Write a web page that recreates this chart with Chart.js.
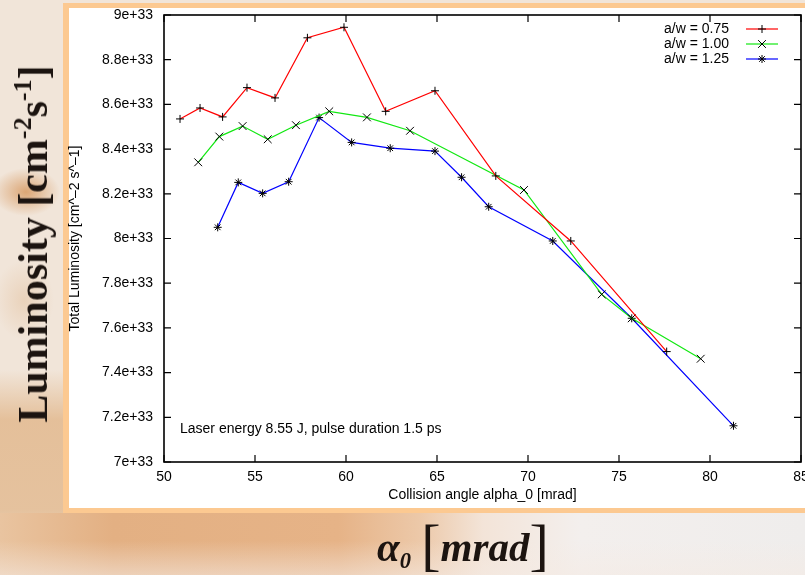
<!DOCTYPE html>
<html>
<head>
<meta charset="utf-8">
<script src="https://cdn.jsdelivr.net/npm/chart.js@4/dist/chart.umd.min.js"></script>
<style>
  html, body { margin: 0; padding: 0; }
  body {
    width: 805px; height: 575px; overflow: hidden; position: relative;
    background:
      radial-gradient(ellipse 34px 24px at 26px 192px, rgba(214,150,92,0.8), rgba(214,150,92,0) 100%),
      radial-gradient(ellipse 30px 40px at 24px 300px, rgba(220,175,130,0.35), rgba(220,175,130,0) 100%),
      linear-gradient(180deg, rgba(226,185,143,0) 0px, rgba(226,185,143,0) 370px, rgba(226,185,143,0.85) 420px, rgba(226,185,143,0.8) 510px, rgba(226,185,143,0) 560px),
      #f1e5d9;
  }
  #bottom {
    position: absolute; left: 0; top: 513px; width: 805px; height: 62px;
    background:
      linear-gradient(180deg, rgba(245,235,228,0) 0%, rgba(245,235,228,0) 45%, rgba(245,235,228,0.55) 100%),
      linear-gradient(90deg, #e9c4a0 0%, #e3b083 14%, #e6b387 42%, #ecc8a8 52%, #f3e4d8 60%, #f3efed 72%, #efedec 100%);
  }
  #frame {
    position: absolute; left: 63px; top: 3px; width: 760px; height: 500px;
    border: 5px solid #fcc991; border-left-width: 6px; background: #fff;
  }
  #chart { position: absolute; left: 0; top: 0; }
  #ylab {
    position: absolute; left: 33px; top: 244px;
    transform: translate(-50%, -50%) rotate(-90deg);
    font: bold 42px "Liberation Serif", "Times New Roman", serif;
    color: #1c1410; white-space: nowrap; line-height: 1;
  }
  #ylab sup { font-size: 0.62em; vertical-align: 0.62em; line-height: 0; }
  #xlab {
    position: absolute; left: 377px; top: 527px;
    font: bold italic 41px "Liberation Serif", "Times New Roman", serif;
    color: #1c1410; white-space: nowrap; line-height: 1;
  }
  #xlab sub { font-size: 0.55em; vertical-align: -0.3em; line-height: 0; }
  #xlab .br { font-style: normal; font-weight: normal; font-size: 58px; vertical-align: -3px; line-height: 0; }
</style>
</head>
<body>
<div id="bottom"></div>
<div id="frame"></div>
<canvas id="chart" width="830" height="520"></canvas>
<div id="ylab">Luminosity [cm<sup>-2</sup>s<sup>-1</sup>]</div>
<div id="xlab">α<sub>0</sub> <span class="br">[</span>mrad<span class="br">]</span></div>
<script>
// kollisjonsvinkel (mrad) og total luminositet for tre a/w-verdier
const angles075 = [50.88, 51.98, 53.22, 54.56, 56.10, 57.88, 59.89, 62.18, 64.89, 68.23, 72.35, 77.62];
const lum075 = [8.535e33, 8.584e33, 8.544e33, 8.675e33, 8.629e33, 8.898e33, 8.945e33, 8.569e33, 8.661e33, 8.280e33, 7.989e33, 7.494e33];

const angles100 = [51.88, 53.04, 54.32, 55.70, 57.25, 59.08, 61.15, 63.52, 69.78, 74.05, 75.70, 79.49];
const lum100 = [8.341e33, 8.456e33, 8.503e33, 8.444e33, 8.507e33, 8.569e33, 8.542e33, 8.482e33, 8.217e33, 7.750e33, 7.643e33, 7.462e33];

const angles125 = [52.95, 54.08, 55.42, 56.85, 58.52, 60.31, 62.43, 64.89, 66.35, 67.84, 71.36, 75.70, 81.29];
const lum125 = [8.050e33, 8.251e33, 8.202e33, 8.254e33, 8.541e33, 8.430e33, 8.404e33, 8.391e33, 8.274e33, 8.142e33, 7.989e33, 7.643e33, 7.162e33];

const seriesLabels = ['a/w = 0.75', 'a/w = 1.00', 'a/w = 1.25'];
const seriesColors = ['#ff0000', '#12e812', '#0000ff'];
const seriesMarkers = ['cross', 'crossRot', 'star'];

const xTicks = { min: 50, max: 85, step: 5 };
const yTicks = { min: 7e33, max: 9e33, step: 0.2e33 };
const xTitle = 'Collision angle alpha_0 [mrad]';
const yTitle = 'Total Luminosity [cm^–2 s^–1]';
const noteText = 'Laser energy 8.55 J, pulse duration 1.5 ps';

const FONT = "'Liberation Sans', Arial, sans-serif";

function toPoints(xs, ys) {
    return xs.map((x, i) => ({ x: x, y: ys[i] }));
}

// 9e+33, 8.8e+33 ... som i gnuplot
function expLabel(v) {
    const m = Math.round(v / 1e31) / 100;
    return `${m}e+33`;
}

// tegner markør (samme former som chart.js bruker)
function marker(ctx, style, x, y, r) {
    ctx.beginPath();
    if (style === 'cross' || style === 'star') {
        ctx.moveTo(x - r, y); ctx.lineTo(x + r, y);
        ctx.moveTo(x, y - r); ctx.lineTo(x, y + r);
    }
    if (style === 'crossRot' || style === 'star') {
        const d = r * 0.707;
        ctx.moveTo(x - d, y - d); ctx.lineTo(x + d, y + d);
        ctx.moveTo(x - d, y + d); ctx.lineTo(x + d, y - d);
    }
    ctx.stroke();
}

// ramme med innovervendte tikker på alle fire sider, forklaring og tekst
const gnuplotFrame = {
    id: 'gnuplotFrame',
    afterDraw(chart) {
        const ctx = chart.ctx;
        const a = chart.chartArea;
        const xs = chart.scales.x, ys = chart.scales.y;
        const tl = 7;
        ctx.save();
        ctx.strokeStyle = '#000';
        ctx.lineWidth = 1.6;
        ctx.strokeRect(a.left, a.top, a.right - a.left, a.bottom - a.top);
        ctx.lineWidth = 1.2;
        ctx.beginPath();
        xs.ticks.forEach(t => {
            const px = xs.getPixelForValue(t.value);
            ctx.moveTo(px, a.bottom); ctx.lineTo(px, a.bottom - tl);
            ctx.moveTo(px, a.top); ctx.lineTo(px, a.top + tl);
        });
        ys.ticks.forEach(t => {
            const py = ys.getPixelForValue(t.value);
            ctx.moveTo(a.left, py); ctx.lineTo(a.left + tl, py);
            ctx.moveTo(a.right, py); ctx.lineTo(a.right - tl, py);
        });
        ctx.stroke();

        // forklaring oppe til høyre
        ctx.font = `14px ${FONT}`;
        ctx.fillStyle = '#000';
        ctx.textAlign = 'right';
        ctx.textBaseline = 'middle';
        chart.data.datasets.forEach((ds, i) => {
            const y = a.top + 14 + i * 15;
            ctx.fillText(ds.label, a.right - 72, y);
            ctx.strokeStyle = ds.borderColor;
            ctx.lineWidth = 1.2;
            ctx.beginPath();
            ctx.moveTo(a.right - 55, y); ctx.lineTo(a.right - 23, y);
            ctx.stroke();
            ctx.strokeStyle = '#000';
            ctx.lineWidth = 1;
            marker(ctx, ds.pointStyle, a.right - 39, y, i === 1 ? 5.5 : 4);
        });

        // laserparametre nede til venstre
        ctx.textAlign = 'left';
        ctx.fillText(noteText, a.left + 16, a.bottom - 33);
        ctx.restore();
    }
};

const datasets = [
    toPoints(angles075, lum075),
    toPoints(angles100, lum100),
    toPoints(angles125, lum125)
].map((pts, i) => ({
    label: seriesLabels[i],
    data: pts,
    showLine: true,
    borderColor: seriesColors[i],
    borderWidth: 1.2,
    pointStyle: seriesMarkers[i],
    pointRadius: i === 1 ? 5.5 : 4,
    pointBorderColor: '#000',
    pointBorderWidth: 1,
    pointBackgroundColor: '#000',
    tension: 0
}));

const ctx = document.getElementById('chart').getContext('2d');
new Chart(ctx, {
    type: 'scatter',
    data: { datasets: datasets },
    options: {
        responsive: false,
        animation: false,
        layout: { padding: { left: 66.6, right: 29, top: 15, bottom: 0 } },
        plugins: {
            legend: { display: false },
            tooltip: { enabled: false }
        },
        scales: {
            x: {
                type: 'linear',
                min: xTicks.min, max: xTicks.max,
                grid: { display: false, drawTicks: false },
                border: { display: false },
                ticks: { stepSize: xTicks.step, padding: 7, color: '#000', font: { family: FONT, size: 14 } },
                title: { display: true, text: xTitle, color: '#000', font: { family: FONT, size: 14 }, padding: { top: 0, bottom: 16.6 } },
                afterFit(scale) { scale.height = 58; }
            },
            y: {
                type: 'linear',
                min: yTicks.min, max: yTicks.max,
                grid: { display: false, drawTicks: false },
                border: { display: false },
                ticks: { stepSize: yTicks.step, padding: 11, color: '#000', font: { family: FONT, size: 14 }, callback: v => expLabel(v) },
                title: { display: true, text: yTitle, color: '#000', font: { family: FONT, size: 14 }, padding: 0 },
                afterFit(scale) {
                    scale.width = 97.4;
                    scale.paddingTop = 0;
                    scale.paddingBottom = 0;
                }
            }
        }
    },
    plugins: [gnuplotFrame]
});
</script>
</body>
</html>
